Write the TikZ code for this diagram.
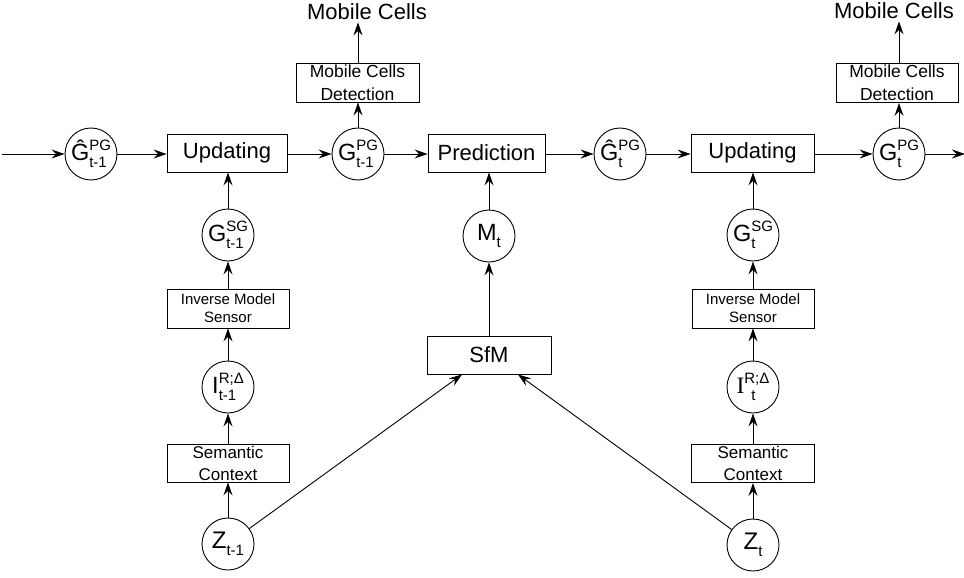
\documentclass[tikz,border=0pt]{standalone}
\usepackage{fontspec}
\setmainfont{Liberation Sans}
\newfontfamily\serifI{Liberation Serif}
\usetikzlibrary{arrows.meta,calc}
\newcommand\mysupsub[3]{#1{\fontsize{15}{15}\selectfont\rlap{\raisebox{-7pt}{#3}}\raisebox{10pt}{#2}}}
\newcommand\mysub[2]{#1{\fontsize{15}{15}\selectfont\raisebox{-7pt}{#2}}}
\tikzset{
  box/.style={draw, line width=0.9pt, minimum height=38pt, inner sep=0pt, align=center},
  bigbox/.style={box, minimum width=120pt, font=\fontsize{22}{24}\selectfont},
  mcdbox/.style={box, minimum width=123pt, minimum height=39pt, font=\fontsize{17.5}{23}\selectfont},
  imsbox/.style={box, minimum width=122pt, minimum height=39pt, font=\fontsize{15}{18}\selectfont},
  sembox/.style={box, minimum width=122pt, minimum height=38pt, font=\fontsize{17}{22}\selectfont},
  circ/.style={draw, circle, minimum size=52pt, inner sep=0pt, line width=0.9pt, font=\fontsize{23.5}{24}\selectfont},
  outtext/.style={inner xsep=0pt, inner ysep=2pt, anchor=base, font=\fontsize{22}{24}\selectfont},
  arr/.style={-{Stealth[length=13pt,width=9pt,inset=4.5pt]}, line width=0.9pt}
}
\begin{document}
\begin{tikzpicture}[x=1pt,y=-1pt]
\useasboundingbox (0,0) rectangle (964,578);
% main row
\coordinate (lstart) at (2,154);
\node[circ] (g0) at (91,154) {\mysupsub{Ĝ}{PG}{t-1}};
\node[bigbox] (upd1) at (227,153) {Updating};
\node[circ] (g1) at (358,154) {\mysupsub{G}{PG}{t-1}};
\node[bigbox, minimum width=117pt] (pred) at (486.5,153) {Prediction};
\node[circ] (g2hat) at (620,154) {\mysupsub{Ĝ}{PG}{t}};
\node[bigbox, minimum width=123pt] (upd2) at (752.5,153) {Updating};
\node[circ] (g2) at (899,154) {\mysupsub{G}{PG}{t}};
\coordinate (rend) at (965,154);
% mobile cells
\node[mcdbox] (mcd1) at (357.5,82.5) {Mobile Cells\\Detection};
\node[outtext] (mc1) at (367,20) {Mobile Cells};
\node[mcdbox, minimum width=122pt] (mcd2) at (897,83) {Mobile Cells\\Detection};
\node[outtext] (mc2) at (894,19) {Mobile Cells};
% left column
\node[circ] (gsg1) at (228,235) {\mysupsub{G}{SG}{t-1}};
\node[imsbox] (ims1) at (228,308.5) {Inverse Model\\Sensor};
\node[circ] (i1) at (228,387) {\mysupsub{I}{R;Δ}{t-1}};
\node[sembox] (sem1) at (228,463) {Semantic\\Context};
\node[circ, font=\fontsize{24}{24}\selectfont] (z1) at (228,544) {\mysub{Z}{t-1}};
% middle column
\node[circ] (mt) at (489,236) {\mysub{M}{t}};
\node[bigbox, minimum width=124pt] (sfm) at (489,355) {SfM};
% right column
\node[circ] (gsg2) at (753,235) {\mysupsub{G}{SG}{t}};
\node[imsbox] (ims2) at (753,308.5) {Inverse Model\\Sensor};
\node[circ] (i2) at (753,387) {{\serifI I}{\fontsize{15}{15}\selectfont\rlap{\hspace{7pt}\raisebox{-7pt}{t}}\raisebox{10pt}{R;Δ}}};
\node[sembox, minimum width=123pt] (sem2) at (753,463.5) {Semantic\\Context};
\node[circ, font=\fontsize{24}{24}\selectfont] (z2) at (753,545) {\mysub{Z}{t}};
% horizontal arrows
\draw[arr] (lstart) -- (g0);
\draw[arr] (g0) -- (g0 -| upd1.west);
\draw[arr] (g1 -| upd1.east) -- (g1);
\draw[arr] (g1) -- (g1 -| pred.west);
\draw[arr] (g2hat -| pred.east) -- (g2hat);
\draw[arr] (g2hat) -- (g2hat -| upd2.west);
\draw[arr] (g2 -| upd2.east) -- (g2);
\draw[arr] (g2) -- (rend);
% up to mobile cells
\draw[arr] (g1) -- (g1 |- mcd1.south);
\draw[arr] (mcd1.north -| g1) -- (g1 |- mc1.south);
\draw[arr] (g2) -- (g2 |- mcd2.south);
\draw[arr] (mcd2.north -| g2) -- (g2 |- mc2.south);
% left column arrows
\draw[arr] (z1) -- (sem1);
\draw[arr] (sem1) -- (i1);
\draw[arr] (i1) -- (ims1);
\draw[arr] (ims1) -- (gsg1);
\draw[arr] (gsg1) -- (gsg1 |- upd1.south);
% right column arrows
\draw[arr] (z2) -- (sem2);
\draw[arr] (sem2) -- (i2);
\draw[arr] (i2) -- (ims2);
\draw[arr] (ims2) -- (gsg2);
\draw[arr] (gsg2) -- (gsg2 |- upd2.south);
% middle
\draw[arr] (sfm) -- (mt);
\draw[arr] (mt) -- (mt |- pred.south);
\draw[arr] (z1) -- ([xshift=-27pt]sfm.south);
\draw[arr] (z2) -- ([xshift=29pt]sfm.south);
\end{tikzpicture}
\end{document}
